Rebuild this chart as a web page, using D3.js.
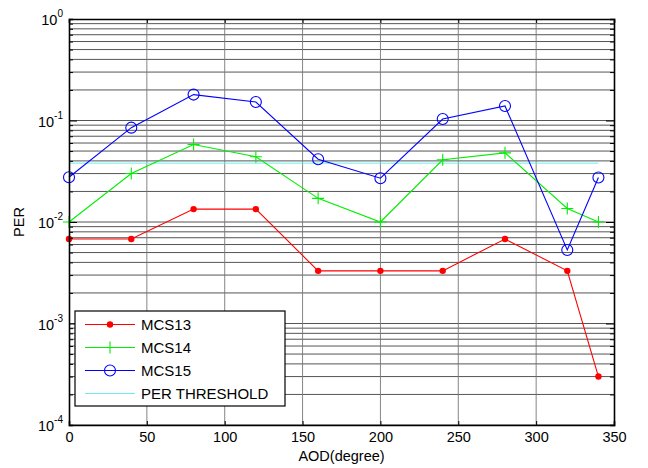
<!DOCTYPE html>
<html>
<head>
<meta charset="utf-8">
<script src="https://cdn.jsdelivr.net/npm/d3@7"></script>
<style>
  body { margin: 0; background: #fff; }
  svg { font-family: "Liberation Sans", Arial, sans-serif; }
</style>
</head>
<body>
<svg id="chart" width="648" height="468"></svg>
<script>
const aod = [0, 40, 80, 120, 160, 200, 240, 280, 320, 340]
const mcs13 = [0.0068, 0.0068, 0.0134, 0.0134, 0.0033, 0.0033, 0.0033, 0.0068, 0.0033, 0.0003]
const mcs14 = [0.0100, 0.030, 0.058, 0.044, 0.0171, 0.0100, 0.041, 0.048, 0.0136, 0.0100]
const mcs15 = [0.0276, 0.085, 0.180, 0.152, 0.0415, 0.0270, 0.1035, 0.139, 0.0053, 0.0274]
const threshold = 0.038
const xTicks = [0, 50, 100, 150, 200, 250, 300, 350]
const yExponents = [0, -1, -2, -3, -4]

const margin = { top: 19, right: 34, bottom: 43, left: 69 }
const width = 648, height = 468

const svg = d3.select('#chart')

const x = d3.scaleLinear().domain([0, 350]).range([margin.left, width - margin.right])
const y = d3.scaleLog().domain([1e-4, 1]).range([height - margin.bottom, margin.top])

// grid: minor log lines + decades
const g = svg.append('g')
const minorVals = []
for (let e = -4; e < 0; e++) {
    for (let k = 1; k <= 9; k++) minorVals.push(k * Math.pow(10, e))
}
g.selectAll('.hgrid').data(minorVals).enter().append('line')
    .attr('x1', x(0)).attr('x2', x(350))
    .attr('y1', d => y(d)).attr('y2', d => y(d))
    .attr('stroke', '#555').attr('stroke-width', 1)

g.selectAll('.vgrid').data(xTicks.slice(1, -1)).enter().append('line')
    .attr('x1', d => x(d)).attr('x2', d => x(d))
    .attr('y1', y(1)).attr('y2', y(1e-4))
    .attr('stroke', '#777').attr('stroke-width', 0.9)

// threshold
svg.append('line')
    .attr('x1', x(0)).attr('x2', x(340))
    .attr('y1', y(threshold)).attr('y2', y(threshold))
    .attr('stroke', '#6eeeee').attr('stroke-width', 1)

const line = vals => d3.line().x((d, i) => x(aod[i])).y(d => y(d))(vals)

const series = [
    { name: 'MCS13', vals: mcs13, color: '#ff0000', marker: 'dot' },
    { name: 'MCS14', vals: mcs14, color: '#00ee00', marker: 'plus' },
    { name: 'MCS15', vals: mcs15, color: '#0000ff', marker: 'circle' }
]

function drawMarker(sel, type, color) {
    if (type === 'dot') {
        sel.append('circle').attr('r', 3.2).attr('fill', color)
    } else if (type === 'plus') {
        sel.append('path').attr('d', 'M-6,0H6M0,-6V6').attr('stroke', color).attr('stroke-width', 1.1).attr('fill', 'none')
    } else {
        sel.append('circle').attr('r', 5.5).attr('fill', 'none').attr('stroke', color).attr('stroke-width', 1.1)
    }
}

series.forEach(s => {
    svg.append('path').attr('d', line(s.vals))
        .attr('fill', 'none').attr('stroke', s.color).attr('stroke-width', 1.1)
    s.vals.forEach((v, i) => {
        const m = svg.append('g').attr('transform', `translate(${x(aod[i])},${y(v)})`)
        drawMarker(m, s.marker, s.color)
    })
})

// axes (box with inward ticks)
const axB = svg.append('g').attr('transform', `translate(0,${y(1e-4)})`)
    .call(d3.axisBottom(x).tickValues(xTicks).tickSize(-4).tickPadding(7))
const axT = svg.append('g').attr('transform', `translate(0,${y(1)})`)
    .call(d3.axisTop(x).tickValues(xTicks).tickSize(-4).tickFormat(''))
const yTickVals = minorVals.concat([1])
const axL = svg.append('g').attr('transform', `translate(${x(0)},0)`)
    .call(d3.axisLeft(y).tickValues(yTickVals).tickSize(-4).tickFormat(''))
const axR = svg.append('g').attr('transform', `translate(${x(350)},0)`)
    .call(d3.axisRight(y).tickValues(yTickVals).tickSize(-4).tickFormat(''))

;[axB, axT, axL, axR].forEach(a => {
    a.select('.domain').attr('stroke', '#000').attr('stroke-width', 1.6)
    a.selectAll('.tick line').attr('stroke', '#000')
})
axB.selectAll('.tick text').attr('font-size', 14.5).attr('fill', '#000')
    .attr('font-family', '"Liberation Sans", Arial, sans-serif')
axL.selectAll('.tick line').attr('x2', d => (Math.abs(Math.log10(d) - Math.round(Math.log10(d))) < 1e-9) ? 8 : 4)
axR.selectAll('.tick line').attr('x2', d => (Math.abs(Math.log10(d) - Math.round(Math.log10(d))) < 1e-9) ? -8 : -4)

// y tick labels 10^n
yExponents.forEach(e => {
    const t = svg.append('text')
        .attr('x', x(0) - 6).attr('y', y(Math.pow(10, e)) + 6)
        .attr('text-anchor', 'end').attr('font-size', 14.5).attr('fill', '#000')
    t.append('tspan').text('10')
    t.append('tspan').attr('dy', -8).attr('font-size', 10).text(e)
})

// axis titles
svg.append('text').attr('x', x(175)).attr('y', 461)
    .attr('text-anchor', 'middle').attr('font-size', 14.5).text('AOD(degree)')
svg.append('text').attr('transform', `translate(24,${(y(1) + y(1e-4)) / 2}) rotate(-90)`)
    .attr('text-anchor', 'middle').attr('font-size', 14.5).text('PER')

// legend
const legend = svg.append('g').attr('transform', 'translate(75,311)')
legend.append('rect').attr('width', 210).attr('height', 95)
    .attr('fill', '#fff').attr('stroke', '#000').attr('stroke-width', 1.2)
const legendItems = series.map(s => ({ name: s.name, color: s.color, marker: s.marker }))
    .concat([{ name: 'PER THRESHOLD', color: '#6eeeee', marker: null }])
legendItems.forEach((d, i) => {
    const row = legend.append('g').attr('transform', `translate(0,${13.5 + i * 23})`)
    row.append('line').attr('x1', 10).attr('x2', 60).attr('stroke', d.color).attr('stroke-width', 1.1)
    if (d.marker) drawMarker(row.append('g').attr('transform', 'translate(35,0)'), d.marker, d.color)
    row.append('text').attr('x', 66).attr('y', 5.5).attr('font-size', 15).text(d.name)
})
</script>
</body>
</html>
